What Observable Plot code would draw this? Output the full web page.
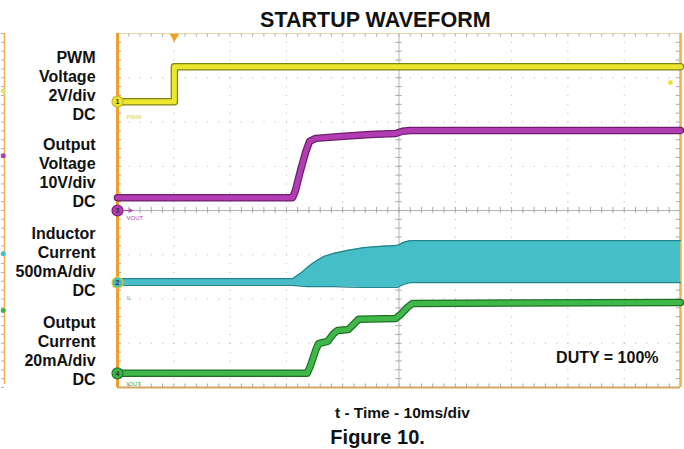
<!DOCTYPE html>
<html><head><meta charset="utf-8">
<script src="https://cdn.jsdelivr.net/npm/d3@7"></script>
<script src="https://cdn.jsdelivr.net/npm/@observablehq/plot@0.6"></script>
<style>body{margin:0;background:#fff}#chart svg{display:block}</style>
</head><body><div id="chart"></div>
<script>
// time in ms (10 ms/div), values in screen divisions (8 div tall, 0 = centre)
const pwmT  = [0, 10.1, 10.1, 100];
const pwmV  = [2.46, 2.46, 3.25, 3.25];
const voutT = [0, 31.1, 31.6, 32.5, 33.4, 34.1, 35.2, 39.6, 44.9, 49.4, 50.6, 52.0, 100];
const voutV = [0.29, 0.29, 0.45, 0.90, 1.31, 1.56, 1.63, 1.67, 1.72, 1.74, 1.79, 1.81, 1.81];
const ilT   = [0, 31.1, 32.5, 33.7, 34.8, 36.6, 38.4, 40.9, 43.7, 46.7, 49.7, 50.8, 52.0, 100];
const ilTop = [-1.54, -1.54, -1.42, -1.29, -1.18, -1.04, -0.97, -0.90, -0.84, -0.81, -0.79, -0.72, -0.68, -0.68];
const ilBot = [-1.69, -1.69, -1.71, -1.72, -1.72, -1.72, -1.72, -1.73, -1.74, -1.74, -1.74, -1.67, -1.63, -1.63];
const ioutT = [0, 33.7, 34.3, 35.2, 35.7, 37.3, 38.4, 39.1, 41.0, 41.7, 42.8, 49.4, 50.3, 51.5, 52.4, 100];
const ioutV = [-3.68, -3.68, -3.50, -3.16, -3.01, -2.96, -2.78, -2.71, -2.69, -2.60, -2.46, -2.44, -2.35, -2.19, -2.10, -2.08];

const channelLabels = ["PWM\nVoltage\n2V/div\nDC", "Output\nVoltage\n10V/div\nDC", "Inductor\nCurrent\n500mA/div\nDC", "Output\nCurrent\n20mA/div\nDC"];
const labelPos = [2.82, 0.86, -1.15, -3.16];
const markerNames = ["1", "3", "2", "4"];
const markerLevels = [2.46, 0, -1.63, -3.68];
const markerColors = ["#ece62c", "#b23db2", "#46bec7", "#3cb44a"];
const markerRings = ["#c8b820", "#7d227d", "#d8c830", "#1f7a28"];
const tinyNames = ["PWM", "VOUT", "IL", "IOUT"];
const tinyPos = [2.10, -0.18, -1.97, -3.93];

const pwm  = pwmT.map((t, i) => ({t, v: pwmV[i]}));
const vout = voutT.map((t, i) => ({t, v: voutV[i]}));
const il   = ilT.map((t, i) => ({t, top: ilTop[i], bot: ilBot[i]}));
const iout = ioutT.map((t, i) => ({t, v: ioutV[i]}));
const labels = channelLabels.map((text, i) => ({text, v: labelPos[i]}));
const markers = markerNames.map((n, i) => ({n, v: markerLevels[i], c: markerColors[i], r: markerRings[i]}));
const tiny = tinyNames.map((n, i) => ({n, v: tinyPos[i], c: markerColors[i] === "#ece62c" ? "#d8d040" : markerColors[i]}));

const majorX = d3.range(10, 100, 10).filter(d => d !== 50);
const majorY = d3.range(-3, 4, 1).filter(d => d !== 0);
const minorX = d3.range(0, 100.001, 2);
const minorY = d3.range(-4, 4.001, 0.2);
const font = "Liberation Sans, Arial, Helvetica, sans-serif";

function band(data, dark, bright) {
  return [
    Plot.line(data, {x: "t", y: "v", stroke: dark, strokeWidth: 7.5, strokeLinejoin: "round"}),
    Plot.line(data, {x: "t", y: "v", stroke: bright, strokeWidth: 5, strokeLinejoin: "round"})
  ];
}

const chart = Plot.plot({
  width: 684, height: 449,
  marginLeft: 117, marginRight: 4, marginTop: 33, marginBottom: 62,
  x: {domain: [0, 100], axis: null},
  y: {domain: [-4, 4], axis: null},
  color: {type: "identity"},
  style: {fontFamily: font, background: "#fff", overflow: "visible"},
  marks: [
    // graticule
    Plot.ruleX(majorX, {stroke: "#bdbdbd", strokeWidth: 1, strokeDasharray: "1.2,7.65"}),
    Plot.ruleY(majorY, {stroke: "#bdbdbd", strokeWidth: 1, strokeDasharray: "1.2,10.06"}),
    Plot.ruleX([50], {stroke: "#b5b5b5", strokeWidth: 1}),
    Plot.ruleY([0], {stroke: "#b5b5b5", strokeWidth: 1}),
    Plot.ruleX(minorX, {y1: -0.07, y2: 0.07, stroke: "#a8a8a8"}),
    Plot.ruleY(minorY, {x1: 49.45, x2: 50.55, stroke: "#a8a8a8"}),
    Plot.ruleX(minorX, {y1: 4, y2: 3.92, stroke: "#a8a8a8"}),
    Plot.ruleX(minorX, {y1: -4, y2: -3.92, stroke: "#a8a8a8"}),
    Plot.ruleY(minorY, {x1: 0, x2: 0.75, stroke: "#a8a8a8"}),
    Plot.ruleY(minorY, {x1: 100, x2: 99.25, stroke: "#a8a8a8"}),
    // frame
    Plot.ruleY([4], {stroke: "#ead3a6", strokeWidth: 1.2}),
    Plot.ruleY([-4], {stroke: "#d6a660", strokeWidth: 2}),
    Plot.ruleX([100], {stroke: "#f0b048", strokeWidth: 2.5}),
    Plot.ruleX([0], {stroke: "#f0a02a", strokeWidth: 3}),
    // neighbouring screen edge at far left
    Plot.ruleX([-20.07], {y1: -3.93, y2: 4, stroke: "#f0b050", strokeWidth: 1.5}),
    Plot.ruleY(minorY, {x1: -20.6, x2: -20.07, stroke: "#b0b0b0"}),
    Plot.dot([{t: -20.3, v: 2.7, c: "#e8e070"}, {t: -20.3, v: 1.24, c: "#b23db2"}, {t: -20.3, v: -0.98, c: "#46bec7"}, {t: -20.3, v: -2.26, c: "#3cb44a"}],
      {x: "t", y: "v", r: 2.5, fill: "c"}),
    // traces
    Plot.areaY(il, {x: "t", y1: "bot", y2: "top", fill: "#46bec7"}),
    Plot.line(il, {x: "t", y: "top", stroke: "#23858c", strokeWidth: 1.2}),
    Plot.line(il, {x: "t", y: "bot", stroke: "#23858c", strokeWidth: 1.2}),
    ...band(pwm, "#7f8418", "#ece62c"),
    ...band(vout, "#6e1e6e", "#b23db2"),
    ...band(iout, "#1f7026", "#3fb84a"),
    // trigger markers
    Plot.dot([{t: 10.1}], {x: "t", y: () => 4, symbol: "triangle", r: 3.5, rotate: 180, dy: 3, fill: "#f0a020"}),
    Plot.dot([{t: 98.2, v: 2.89}], {x: "t", y: "v", r: 2.3, fill: "#e8e020"}),
    // channel ground markers
    Plot.dot(markers, {x: () => 0, y: "v", r: 5.5, fill: "c", stroke: "r", strokeWidth: 1.2}),
    Plot.text(markers, {x: () => 0, y: "v", text: "n", fontSize: 7, fontWeight: "bold", fill: "#333"}),
    Plot.arrow([{v: 0}], {x1: () => 1.1, x2: () => 2.6, y1: "v", y2: "v", stroke: "#b23db2", strokeWidth: 1.2, headLength: 4}),
    Plot.text(tiny, {x: () => 1.6, y: "v", text: "n", fill: "c", fontSize: 6, textAnchor: "start"}),
    // texts
    Plot.text(labels, {x: () => -3.9, y: "v", text: "text", textAnchor: "end", lineAnchor: "middle", lineHeight: 1.18, fontSize: 16, fontWeight: "bold", fill: "#111"}),
    Plot.text([{s: "STARTUP WAVEFORM"}], {x: () => 45.8, y: () => 4.31, text: "s", fontSize: 21.5, fontWeight: "bold", fill: "#111", lineAnchor: "middle"}),
    Plot.text([{s: "DUTY = 100%"}], {x: () => 96.1, y: () => -3.33, text: "s", fontSize: 16, fontWeight: "bold", fill: "#111", textAnchor: "end", lineAnchor: "middle"}),
    Plot.text([{s: "t - Time - 10ms/div"}], {x: () => 50.6, y: () => -4.57, text: "s", fontSize: 15.5, fontWeight: "bold", fill: "#111", lineAnchor: "middle"}),
    Plot.text([{s: "Figure 10."}], {x: () => 46.2, y: () => -5.13, text: "s", fontSize: 20, fontWeight: "bold", fill: "#111", lineAnchor: "middle"})
  ]
});
document.getElementById("chart").append(chart);
</script>
</body></html>
